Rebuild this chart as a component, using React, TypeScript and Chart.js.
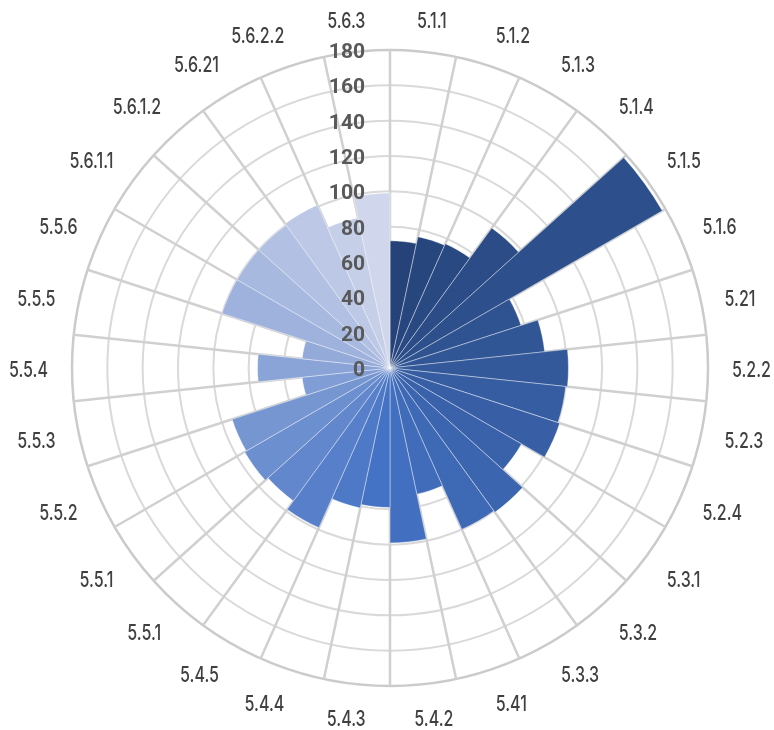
import React, { useEffect, useRef } from "react";
import { Chart, registerables } from "chart.js";

Chart.register(...registerables);

const categories: string[] = [
  "5.1.1", "5.1.2", "5.1.3", "5.1.4", "5.1.5", "5.1.6",
  "5.21", "5.2.2", "5.2.3", "5.2.4",
  "5.3.1", "5.3.2", "5.3.3",
  "5.41", "5.4.2", "5.4.3", "5.4.4", "5.4.5",
  "5.5.1", "5.5.1", "5.5.2", "5.5.3", "5.5.4", "5.5.5", "5.5.6",
  "5.6.1.1", "5.6.1.2", "5.6.21", "5.6.2.2", "5.6.3",
];

const values: number[] = [
  72, 76, 77, 98, 178, 78,
  88, 101, 100, 101,
  86, 101, 100,
  73, 99, 79, 81, 99,
  93, 95, 94, 50, 75, 50, 100,
  100, 100, 101, 87, 99,
];

const tickValues: number[] = [0, 20, 40, 60, 80, 100, 120, 140, 160, 180];

// Monochromatic blue palette (style): dark shade -> base -> light tint
const DARK = [37, 67, 120];
const BASE = [68, 114, 196];
const LIGHT = [208, 214, 235];
function paletteColor(i: number, n: number): string {
  const mid = 15;
  let a: number[], b: number[], t: number;
  if (i <= mid) {
    a = DARK; b = BASE; t = i / mid;
  } else {
    a = BASE; b = LIGHT; t = (i - mid) / (n - 1 - mid);
  }
  const c = a.map((v, k) => Math.round(v + (b[k] - v) * t));
  return `rgb(${c[0]},${c[1]},${c[2]})`;
}

const clamp01 = (v: number) => Math.max(0, Math.min(1, v));

export default function App() {
  const ref = useRef<HTMLCanvasElement>(null);

  useEffect(() => {
    if (!ref.current) return;
    const n = categories.length;

    const labelPlugin = {
      id: "customLabels",
      afterDatasetsDraw(chart: any) {
        const scale = chart.scales.r;
        const ctx = chart.ctx as CanvasRenderingContext2D;
        ctx.save();
        // radial tick labels (drawn left of the vertical axis)
        ctx.font = "bold 21px Roboto, 'DejaVu Sans', sans-serif";
        ctx.fillStyle = "#595959";
        ctx.textAlign = "right";
        ctx.textBaseline = "alphabetic";
        tickValues.forEach((v) => {
          const d = scale.getDistanceFromCenterForValue(v);
          ctx.fillText(String(v), scale.xCenter - 25, scale.yCenter - d + 8);
        });

        // category labels
        ctx.font = "500 21px Inter, Roboto, sans-serif";
        ctx.fillStyle = "#404040";
        ctx.textAlign = "center";
        ctx.textBaseline = "alphabetic";
        const sx = 39 / ctx.measureText("5.2.2").width;
        const capHalf = 7.6;
        const h = 17;
        const R = scale.drawingArea;
        categories.forEach((c, i) => {
          const w = ctx.measureText(c).width * sx;
          const p = scale.getPointPosition(i, R + 24, Math.PI / n);
          const ang = ((i + 0.5) * 2 * Math.PI) / n;
          const s = Math.sin(ang);
          const co = Math.cos(ang);
          const fx = clamp01((Math.abs(s) - 0.03) / 0.18);
          const fy = clamp01((Math.abs(co) - 0.25) / 0.33);
          const cx = p.x + Math.sign(s) * fx * (w / 2);
          const cy = p.y - Math.sign(co) * fy * (h / 2) + 1.5;
          ctx.save();
          ctx.translate(cx, cy + capHalf);
          ctx.scale(sx, 1);
          ctx.fillText(c, 0, 0);
          ctx.restore();
        });
        ctx.restore();
      },
    };

    const chart = new Chart(ref.current, {
      type: "polarArea",
      data: {
        labels: categories,
        datasets: [
          {
            data: values,
            backgroundColor: categories.map((_, i) => paletteColor(i, n)),
            borderColor: "rgba(255,255,255,0.5)",
            borderWidth: 0.8,
          },
        ],
      },
      options: {
        responsive: false,
        devicePixelRatio: 1,
        animation: false,
        layout: { padding: { left: 72, top: 50, right: 66, bottom: 44 } },
        plugins: {
          legend: { display: false },
          tooltip: { enabled: false },
        },
        scales: {
          r: {
            min: 0,
            max: 180,
            startAngle: 0,
            ticks: { display: false, stepSize: 20 },
            grid: {
              circular: true,
              color: (ctx: any) => (ctx.index === tickValues.length - 1 ? "#CBCBCB" : "#D9D9D9"),
              lineWidth: (ctx: any) => (ctx.index === tickValues.length - 1 ? 2.5 : 2),
            },
            angleLines: { display: true, color: "#D0D0D0", lineWidth: 2.5 },
            pointLabels: { display: false },
          },
        },
      },
      plugins: [labelPlugin],
    } as any);

    return () => chart.destroy();
  }, []);

  return (
    <div style={{ position: "fixed", left: 0, top: 0, width: 774, height: 730, background: "#fff" }}>
      <canvas ref={ref} width={774} height={730} style={{ display: "block" }} />
    </div>
  );
}
